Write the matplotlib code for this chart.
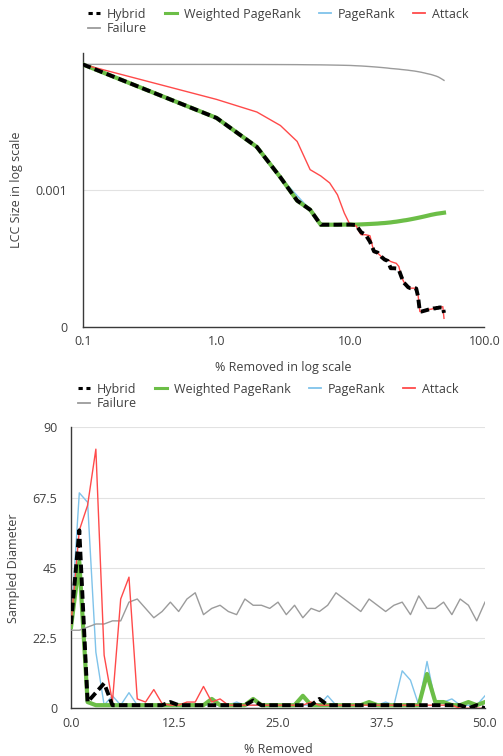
import matplotlib
matplotlib.use('Agg')
import matplotlib.pyplot as plt
from matplotlib.lines import Line2D
from matplotlib.ticker import FixedLocator, FixedFormatter, NullLocator

plt.rcParams['font.family'] = ['Open Sans', 'DejaVu Sans']

# % of nodes removed (0 is drawn at 0.1 on the log axis)
pct_removed = list(range(0, 51))
pct_removed_log = [0.1] + pct_removed[1:]

# LCC size (top chart)
lcc_hybrid = [0.00822, 0.00334, 0.00205, 0.00123, 0.000832, 0.000714, 0.000555, 0.000555, 0.000555, 0.000556,
              0.000556, 0.000552, 0.000490, 0.000468, 0.000417, 0.000355, 0.000347, 0.000324, 0.000309, 0.000302,
              0.000267, 0.000267, 0.000266, 0.000260, 0.000232, 0.000210, 0.000202, 0.000194, 0.000191, 0.000191,
              0.000191, 0.000190, 0.000166, 0.000129, 0.000129, 0.000130, 0.000131, 0.000132, 0.000133, 0.000134,
              0.000134, 0.000135, 0.000136, 0.000136, 0.000137, 0.000137, 0.000138, 0.000138, 0.000138, 0.000139,
              0.000126]
lcc_wpr = [0.00822, 0.00334, 0.00205, 0.00123, 0.000832, 0.000714, 0.000555, 0.000555, 0.000555, 0.000556,
           0.000556, 0.000556, 0.000558, 0.000560, 0.000562, 0.000564, 0.000566, 0.000569, 0.000571, 0.000574,
           0.000577, 0.000581, 0.000584, 0.000588, 0.000592, 0.000596, 0.000599, 0.000603, 0.000607, 0.000611,
           0.000615, 0.000619, 0.000623, 0.000627, 0.000631, 0.000635, 0.000639, 0.000643, 0.000647, 0.000651,
           0.000655, 0.000658, 0.000661, 0.000664, 0.000667, 0.000669, 0.000671, 0.000673, 0.000675, 0.000677,
           0.000679]
lcc_pagerank = [0.00822, 0.00334, 0.00205, 0.00123, 0.000904, 0.000714, 0.000555, 0.000555, 0.000555, 0.000556,
                0.000556, 0.000556, 0.000558, 0.000560, 0.000562, 0.000564, 0.000566, 0.000569, 0.000571, 0.000574,
                0.000577, 0.000581, 0.000584, 0.000588, 0.000592, 0.000596, 0.000599, 0.000603, 0.000607, 0.000611,
                0.000615, 0.000619, 0.000623, 0.000627, 0.000631, 0.000635, 0.000639, 0.000643, 0.000647, 0.000651,
                0.000655, 0.000658, 0.000661, 0.000664, 0.000667, 0.000669, 0.000671, 0.000673, 0.000675, 0.000677,
                0.000679]
lcc_attack = [0.00822, 0.00456, 0.00369, 0.00294, 0.00225, 0.00140, 0.00126, 0.00112, 0.000918, 0.000675,
              0.000547, 0.000547, 0.000469, 0.000469, 0.000461, 0.000348, 0.000344, 0.000325, 0.000311, 0.000308,
              0.000299, 0.000294, 0.000290, 0.000275, 0.000232, 0.000213, 0.000202, 0.000194, 0.000191, 0.000191,
              0.000191, 0.000191, 0.000171, 0.000129, 0.000129, 0.000130, 0.000131, 0.000132, 0.000133, 0.000134,
              0.000134, 0.000135, 0.000136, 0.000136, 0.000137, 0.000138, 0.000138, 0.000139, 0.000139, 0.000140,
              0.000115]
lcc_failure = [0.00822, 0.00821, 0.00820, 0.00819, 0.00818, 0.00816, 0.00815, 0.00813, 0.00811, 0.00809,
               0.00807, 0.00803, 0.00800, 0.00796, 0.00792, 0.00788, 0.00784, 0.00780, 0.00776, 0.00772,
               0.00767, 0.00764, 0.00761, 0.00758, 0.00754, 0.00751, 0.00748, 0.00745, 0.00741, 0.00738,
               0.00735, 0.00731, 0.00727, 0.00723, 0.00719, 0.00714, 0.00710, 0.00705, 0.00701, 0.00697,
               0.00693, 0.00688, 0.00683, 0.00678, 0.00673, 0.00667, 0.00660, 0.00652, 0.00644, 0.00636,
               0.00628]

# sampled diameter (bottom chart)
diam_hybrid = [27, 57, 2, 5, 8, 1, 1, 1, 1, 1,
               1, 1, 2, 1, 1, 1, 1, 1, 1, 1,
               1, 1, 2.5, 1, 1, 1, 1, 1, 1, 1,
               3, 1, 1, 1, 1, 1, 1, 1, 1, 1,
               1, 1, 1, 1, 1, 1, 1, 1, 0, 1,
               0]
diam_wpr = [26, 47, 2, 1, 1, 1, 1, 1, 1, 1,
            1, 1, 1, 1, 1, 1, 1, 3, 1, 1,
            1, 1, 3, 1, 1, 1, 1, 1, 4, 1,
            1, 1, 1, 1, 1, 1, 2, 1, 1, 1,
            1, 1, 1, 11, 2, 2, 1, 1, 2, 1,
            2]
diam_pagerank = [27, 69, 66, 18, 1, 4, 1, 5, 1, 1,
                 1, 1, 1, 1, 1, 1, 1, 1, 1, 1,
                 2, 1, 1, 1, 1, 1, 1, 1, 1, 1,
                 1, 4, 1, 1, 1, 1, 1, 1, 2, 1,
                 12, 9, 1, 15, 2, 2, 3, 1, 1, 1,
                 4]
diam_attack = [27, 57, 65, 83, 17, 2, 35, 42, 3, 2,
               6, 1.5, 1, 1, 2, 2, 7, 2, 3, 1,
               1, 1, 1, 1, 1, 1, 1, 1, 1, 2,
               1, 1, 1, 1, 1, 1, 1, 1, 1, 1,
               1, 1, 1, 1, 1, 1, 1, 0, 0, 0,
               0]
diam_failure = [25, 25, 26, 27, 27, 28, 28, 34, 35, 32,
                29, 31, 34, 31, 35, 37, 30, 32, 33, 31,
                30, 35, 33, 33, 32, 34, 30, 33, 29, 32,
                31, 33, 37, 35, 33, 31, 35, 33, 31, 33,
                34, 30, 36, 32, 32, 34, 30, 35, 33, 28,
                34]

c_hybrid = 'black'
c_wpr = '#6CBE47'
c_pr = '#7FC3EA'
c_attack = '#FF4A4A'
c_fail = '#9B9B9B'
txt = '#404040'
fs = 9.0

fig = plt.figure(figsize=(5.03, 7.56), dpi=100)
ax1 = fig.add_axes([0.1644, 0.5679, 0.7984, 0.3624])
ax2 = fig.add_axes([0.1412, 0.0631, 0.8230, 0.3717])


def style_axes(ax):
    for s in ['top', 'right']:
        ax.spines[s].set_visible(False)
    for s in ['left', 'bottom']:
        ax.spines[s].set_color('#3a3a3a')
        ax.spines[s].set_linewidth(1.0)
    ax.tick_params(length=0, labelsize=fs, labelcolor=txt)
    ax.grid(axis='y', color='#e2e2e2', linewidth=0.8)
    ax.set_axisbelow(True)


def draw(ax, x, pr, wpr, fail, att, hyb):
    ax.plot(x, pr, color=c_pr, lw=1.0, zorder=2)
    ax.plot(x, wpr, color=c_wpr, lw=3.0, zorder=3, solid_joinstyle='round')
    ax.plot(x, fail, color=c_fail, lw=1.0, zorder=3)
    ax.plot(x, att, color=c_attack, lw=1.0, zorder=4)
    ax.plot(x, hyb, color=c_hybrid, lw=2.8, dashes=(2.2, 1.1), zorder=5)


# top: LCC size
style_axes(ax1)
draw(ax1, pct_removed_log, lcc_pagerank, lcc_wpr, lcc_failure, lcc_attack, lcc_hybrid)
ax1.set_xscale('log')
ax1.set_yscale('log')
ax1.set_xlim(0.1, 100)
ax1.set_ylim(1e-4, 1e-2)
ax1.xaxis.set_major_locator(FixedLocator([0.1, 1, 10, 100]))
ax1.xaxis.set_major_formatter(FixedFormatter(['0.1', '1.0', '10.0', '100.0']))
ax1.xaxis.set_minor_locator(NullLocator())
ax1.yaxis.set_major_locator(FixedLocator([1e-4, 1e-3]))
ax1.yaxis.set_major_formatter(FixedFormatter(['0', '0.001']))
ax1.yaxis.set_minor_locator(NullLocator())
ax1.tick_params(axis='x', pad=6)
ax1.tick_params(axis='y', pad=11)
ax1.set_xlabel('% Removed in log scale', fontsize=fs, color=txt)
ax1.set_ylabel('LCC Size in log scale', fontsize=fs, color=txt)
ax1.xaxis.set_label_coords(0.5, -0.124)
ax1.yaxis.set_label_coords(-0.149, 0.5)

# bottom: sampled diameter
style_axes(ax2)
draw(ax2, pct_removed, diam_pagerank, diam_wpr, diam_failure, diam_attack, diam_hybrid)
ax2.set_xlim(0, 50)
ax2.set_ylim(0, 90)
ax2.set_xticks([0, 12.5, 25, 37.5, 50])
ax2.set_xticklabels(['0.0', '12.5', '25.0', '37.5', '50.0'])
ax2.set_yticks([0, 22.5, 45, 67.5, 90])
ax2.set_yticklabels(['0', '22.5', '45', '67.5', '90'])
ax2.tick_params(axis='x', pad=6)
ax2.tick_params(axis='y', pad=10)
ax2.set_xlabel('% Removed', fontsize=fs, color=txt)
ax2.set_ylabel('Sampled Diameter', fontsize=fs, color=txt)
ax2.xaxis.set_label_coords(0.502, -0.1235)
ax2.yaxis.set_label_coords(-0.123, 0.5)

# legends (column-major order so that Failure lands on the second row)
handles = [Line2D([], [], color=c_hybrid, lw=2.2, dashes=(1.4, 1.2)),
           Line2D([], [], color=c_fail, lw=1.3),
           Line2D([], [], color=c_wpr, lw=2.2),
           Line2D([], [], color=c_pr, lw=1.3),
           Line2D([], [], color=c_attack, lw=1.3)]
labels = ['Hybrid', 'Failure', 'Weighted PageRank', 'PageRank', 'Attack']
for anchor in [(0.175, 0.990), (0.155, 0.494)]:
    leg = fig.legend(handles, labels, loc='upper left', bbox_to_anchor=anchor, ncol=4,
                     frameon=False, borderpad=0, borderaxespad=0, fontsize=fs,
                     handlelength=0.95, handletextpad=0.55, columnspacing=1.45, labelspacing=0.15)
    for t in leg.get_texts():
        t.set_color(txt)

fig.savefig('out.png', dpi=100)
